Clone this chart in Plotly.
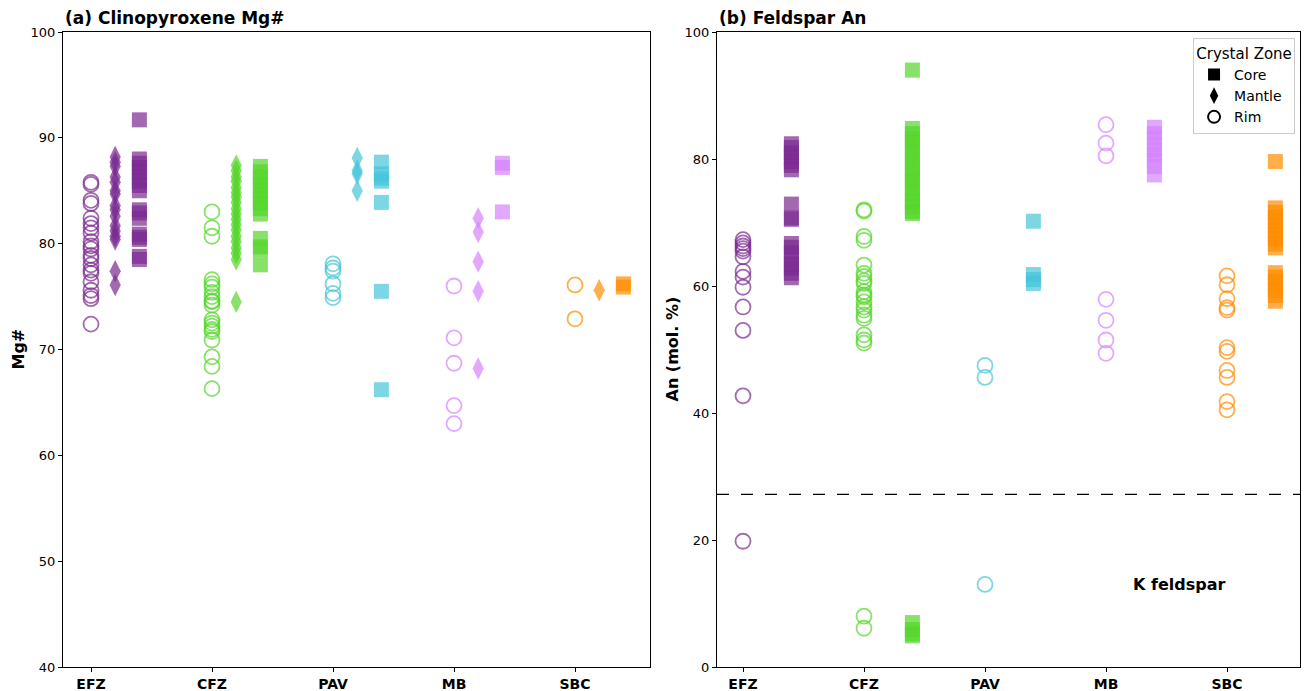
import plotly.graph_objects as go

# ---------------- data ----------------
categories = ["EFZ", "CFZ", "PAV", "MB", "SBC"]
colors = ["#7B2A90", "#55D52B", "#45C4D8", "#D683FF", "#FF8C00"]

# (a) Clinopyroxene Mg#
cpx_rim = {
    "EFZ": [85.8, 85.6, 84.1, 83.8, 82.4, 81.9, 81.5, 81.0, 80.2, 79.8, 79.5, 78.9, 78.6, 78.0, 77.5, 77.2, 76.4, 75.6, 75.1, 74.8, 72.4],
    "CFZ": [83.0, 81.5, 80.7, 76.6, 76.2, 75.9, 75.4, 75.0, 74.6, 74.5, 74.2, 72.8, 72.5, 72.2, 71.9, 71.7, 70.9, 69.3, 68.4, 66.3],
    "PAV": [78.1, 77.7, 77.4, 76.2, 75.3, 74.9],
    "MB": [76.0, 71.1, 68.7, 64.7, 63.0],
    "SBC": [76.1, 72.9],
}
cpx_mantle = {
    "EFZ": [88.2, 87.7, 87.3, 86.3, 85.8, 85.0, 84.7, 83.6, 83.2, 82.6, 81.7, 81.2, 80.7, 80.4, 77.4, 76.1],
    "CFZ": [87.4, 86.9, 86.3, 85.9, 85.3, 84.8, 84.4, 83.9, 83.3, 82.8, 82.3, 81.8, 81.3, 80.7, 80.2, 79.6, 79.1, 78.5, 74.5],
    "PAV": [88.1, 86.9, 86.6, 85.0],
    "MB": [82.4, 81.1, 78.3, 75.5, 68.2],
    "SBC": [75.6],
}
cpx_core = {
    "EFZ": [91.7, 88.0, 87.6, 87.2, 86.8, 86.3, 85.9, 85.5, 85.0, 83.2, 82.9, 82.4, 80.9, 80.6, 80.4, 78.8, 78.5],
    "CFZ": [87.3, 86.8, 86.3, 85.9, 85.5, 85.0, 84.6, 84.2, 83.8, 83.3, 82.8, 80.5, 79.7, 79.4, 78.0],
    "PAV": [87.7, 86.6, 86.2, 85.9, 83.9, 75.5, 66.2],
    "MB": [87.6, 87.2, 83.0],
    "SBC": [76.2, 75.9],
}

# (b) Feldspar An
fsp_rim = {
    "EFZ": [67.3, 66.8, 66.3, 65.9, 65.5, 64.6, 62.3, 61.4, 59.8, 56.7, 53.0, 42.7, 19.8],
    "CFZ": [72.0, 71.8, 67.8, 67.2, 63.3, 62.0, 61.5, 60.8, 60.4, 59.1, 58.6, 58.3, 57.5, 56.7, 56.2, 55.4, 54.9, 52.3, 51.5, 51.0, 8.0, 6.1],
    "PAV": [47.5, 45.6, 13.0],
    "MB": [85.4, 82.5, 80.5, 57.9, 54.6, 51.5, 49.4],
    "SBC": [61.6, 60.2, 58.0, 56.6, 56.2, 50.3, 49.7, 46.7, 45.6, 41.8, 40.5],
}
fsp_core = {
    "EFZ": [82.4, 81.8, 81.0, 80.3, 79.6, 79.0, 78.3, 72.9, 70.7, 70.5, 66.7, 66.1, 65.2, 64.3, 63.5, 62.8, 62.0, 61.3],
    "CFZ": [94.0, 84.8, 84.0, 83.2, 82.5, 81.7, 80.9, 80.1, 79.3, 78.5, 77.7, 76.9, 76.3, 75.4, 74.6, 73.9, 73.2, 72.4, 71.7, 71.4, 7.0, 5.9, 5.2, 4.9],
    "PAV": [70.2, 61.8, 61.0, 60.4],
    "MB": [85.0, 84.0, 83.3, 82.3, 81.5, 80.7, 79.8, 78.8, 77.5],
    "SBC": [79.6, 72.3, 71.6, 70.9, 70.2, 69.5, 68.8, 68.1, 67.4, 66.6, 66.0, 62.1, 61.4, 60.7, 60.0, 59.3, 58.5, 57.6],
}
k_feldspar_threshold = 27.2

# ---------------- style ----------------
FONT = "DejaVu Sans"
ALPHA = 0.7
offsets = {"rim": 0.0, "mantle": 0.2, "core": 0.4}


def rgba(hexc, a):
    h = hexc.lstrip("#")
    r, g, b = int(h[0:2], 16), int(h[2:4], 16), int(h[4:6], 16)
    return f"rgba({r},{g},{b},{a})"


fig = go.Figure()


def add_zone(data, zone, xa, ya):
    for i, cat in enumerate(categories):
        vals = data.get(cat, [])
        if not vals:
            continue
        col = colors[i]
        xs = [i + offsets[zone]] * len(vals)
        if zone == "rim":
            marker = dict(symbol="circle-open", size=15,
                          color=rgba(col, ALPHA), line=dict(width=1.8, color=rgba(col, ALPHA)))
        elif zone == "mantle":
            marker = dict(symbol="diamond-tall", size=16, color=rgba(col, ALPHA), line=dict(width=0))
        else:
            marker = dict(symbol="square", size=15, color=rgba(col, ALPHA), line=dict(width=0))
        fig.add_trace(go.Scatter(x=xs, y=vals, mode="markers", marker=marker,
                                 xaxis=xa, yaxis=ya, showlegend=False, hoverinfo="y"))


add_zone(cpx_rim, "rim", "x", "y")
add_zone(cpx_mantle, "mantle", "x", "y")
add_zone(cpx_core, "core", "x", "y")
add_zone(fsp_rim, "rim", "x2", "y2")
add_zone(fsp_core, "core", "x2", "y2")

# legend proxies
for name, sym, extra in [("Core", "square", {}), ("Mantle", "diamond-tall", {}),
                         ("Rim", "circle-open", {"line": dict(width=2, color="black")})]:
    fig.add_trace(go.Scatter(x=[None], y=[None], mode="markers", name=name,
                             marker=dict(symbol=sym, size=12, color="black", **extra),
                             xaxis="x2", yaxis="y2", showlegend=True))

W, H = 1306, 691
ml, mr, mt, mb = 63, 6, 32, 24
pw = W - ml - mr
left_end = (650 - ml) / pw
right_start = (717 - ml) / pw

axis_common = dict(showline=True, linecolor="black", linewidth=1, mirror=True,
                   ticks="outside", ticklen=4, tickcolor="black", showgrid=False,
                   zeroline=False, automargin=False,
                   tickfont=dict(family=FONT, size=13, color="black"))

xtick = dict(tickmode="array", tickvals=list(range(len(categories))),
             ticktext=[f"<b>{c}</b>" for c in categories],
             tickfont=dict(family=FONT, size=14, color="black"))

step = 121.0
fig.update_layout(
    width=W, height=H,
    margin=dict(l=ml, r=mr, t=mt, b=mb),
    plot_bgcolor="white", paper_bgcolor="white",
    font=dict(family=FONT, color="black"),
    xaxis=dict(domain=[0, left_end], range=[-28 / step, (650 - 91) / step], **{**axis_common, **xtick}),
    yaxis=dict(range=[40, 100], tickvals=[40, 50, 60, 70, 80, 90, 100], **axis_common),
    xaxis2=dict(domain=[right_start, 1], anchor="y2", range=[-26 / step, (1300 - 743) / step],
                **{**axis_common, **xtick}),
    yaxis2=dict(range=[0, 100], tickvals=[0, 20, 40, 60, 80, 100], anchor="x2", **axis_common),
    legend=dict(title=dict(text="Crystal Zone", side="top center", font=dict(family=FONT, size=15)),
                font=dict(family=FONT, size=14, color="black"),
                x=0.996, y=0.99, xanchor="right", yanchor="top",
                bordercolor="#cccccc", borderwidth=1, bgcolor="rgba(255,255,255,0.9)",
                itemsizing="constant", tracegroupgap=0),
    showlegend=True,
)

fig.add_shape(type="line", xref="x2 domain", yref="y2", x0=0, x1=1,
              y0=k_feldspar_threshold, y1=k_feldspar_threshold,
              line=dict(color="black", width=1.3, dash="12px,12px"))

fig.add_annotation(text="<b>K feldspar</b>", xref="x2", yref="y2", x=3.6, y=13,
                   showarrow=False, font=dict(family=FONT, size=16, color="black"))

# y-axis titles
fig.add_annotation(text="<b>Mg#</b>", xref="paper", yref="y domain", x=(18 - ml) / pw, y=0.5,
                   textangle=-90, showarrow=False, xanchor="center", yanchor="middle",
                   font=dict(family=FONT, size=16, color="black"))
fig.add_annotation(text="<b>An (mol. %)</b>", xref="paper", yref="y2 domain", x=(672 - ml) / pw, y=0.5,
                   textangle=-90, showarrow=False, xanchor="center", yanchor="middle",
                   font=dict(family=FONT, size=16, color="black"))

fig.add_annotation(text="<b>(a) Clinopyroxene Mg#</b>", xref="x domain", yref="y domain",
                   x=0, y=1, xanchor="left", yanchor="bottom", yshift=2, showarrow=False,
                   font=dict(family=FONT, size=17, color="black"))
fig.add_annotation(text="<b>(b) Feldspar An</b>", xref="x2 domain", yref="y2 domain",
                   x=0, y=1, xanchor="left", yanchor="bottom", yshift=2, showarrow=False,
                   font=dict(family=FONT, size=17, color="black"))

fig.write_html("out.html")
